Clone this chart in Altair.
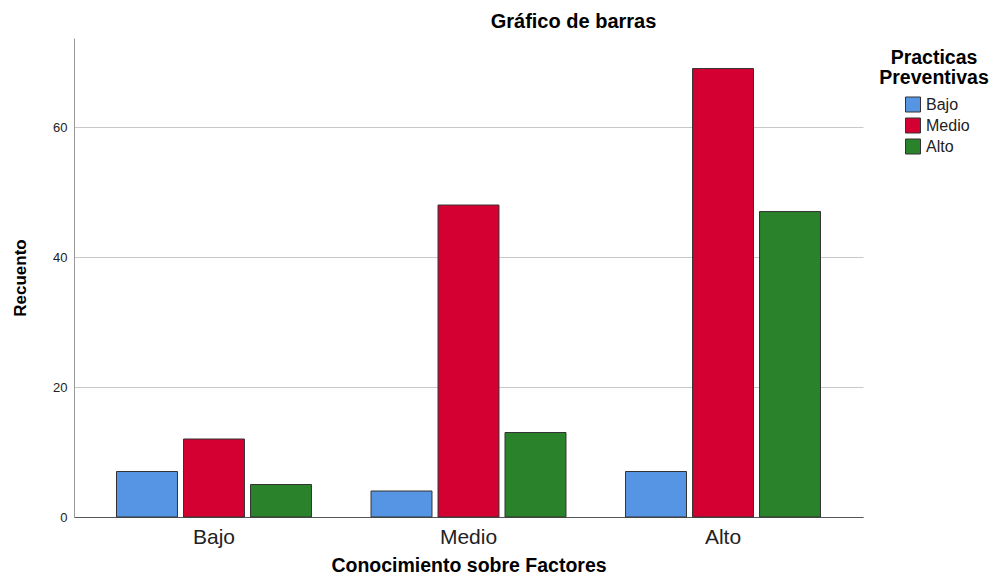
import altair as alt
import pandas as pd

conocimiento = ["Bajo", "Bajo", "Bajo", "Medio", "Medio", "Medio", "Alto", "Alto", "Alto"]
practicas = ["Bajo", "Medio", "Alto", "Bajo", "Medio", "Alto", "Bajo", "Medio", "Alto"]
recuento = [7, 12, 5, 4, 48, 13, 7, 69, 47]

cats = ["Bajo", "Medio", "Alto"]
colors = ["#5595e3", "#d50032", "#2a822a"]

df = pd.DataFrame({"Conocimiento": conocimiento, "Practicas": practicas, "Recuento": recuento})

FONT = "Liberation Sans"

chart = alt.Chart(df).mark_bar(stroke="#333333", strokeWidth=1).encode(
    x=alt.X("Conocimiento:N", sort=cats,
            scale=alt.Scale(paddingInner=0.234, paddingOuter=0.167),
            axis=alt.Axis(title="Conocimiento sobre Factores", labelAngle=0, ticks=False,
                          labelFontSize=21, labelColor="#222222", labelPadding=9,
                          titleFontSize=19.5, titleFontWeight="bold", titleColor="#000000",
                          titlePadding=9, domainColor="#555555", grid=False)),
    xOffset=alt.XOffset("Practicas:N", sort=cats, scale=alt.Scale(paddingInner=0.09, paddingOuter=0)),
    y=alt.Y("Recuento:Q", scale=alt.Scale(domain=[0, 73.7], nice=False),
            axis=alt.Axis(title="Recuento", values=[0, 20, 40, 60], ticks=False,
                          labelFontSize=13, labelColor="#222222", labelPadding=7,
                          titleFontSize=17, titleFontWeight="bold", titleColor="#000000",
                          titlePadding=23, domainColor="#999999", gridColor="#c8c8c8",
                          grid=True)),
    color=alt.Color("Practicas:N", sort=cats, scale=alt.Scale(domain=cats, range=colors),
                    legend=alt.Legend(title=["Practicas", "Preventivas"], orient="none",
                                      legendX=805, legendY=11, padding=0,
                                      titleFontSize=19.5, titleFontWeight="bold", titleColor="#000000",
                                      titleAnchor="middle", titleAlign="center", titleLineHeight=20,
                                      titlePadding=8,
                                      symbolType="square", symbolSize=225, symbolStrokeColor="#333333",
                                      symbolStrokeWidth=1, symbolOffset=6,
                                      labelFontSize=16, labelColor="#222222", labelOffset=5,
                                      rowPadding=1)),
).properties(
    width=789, height=479,
    title=alt.TitleParams("Gráfico de barras", fontSize=20, fontWeight="bold", color="#000000",
                          anchor="middle", dx=105, offset=6, font=FONT),
    autosize=alt.AutoSizeParams(type="none"),
    padding={"left": 66, "top": 30, "right": 128, "bottom": 59},
).configure(font=FONT).configure_view(stroke=None)

chart.save("out.html", embed_options={"renderer": "svg", "actions": False})
